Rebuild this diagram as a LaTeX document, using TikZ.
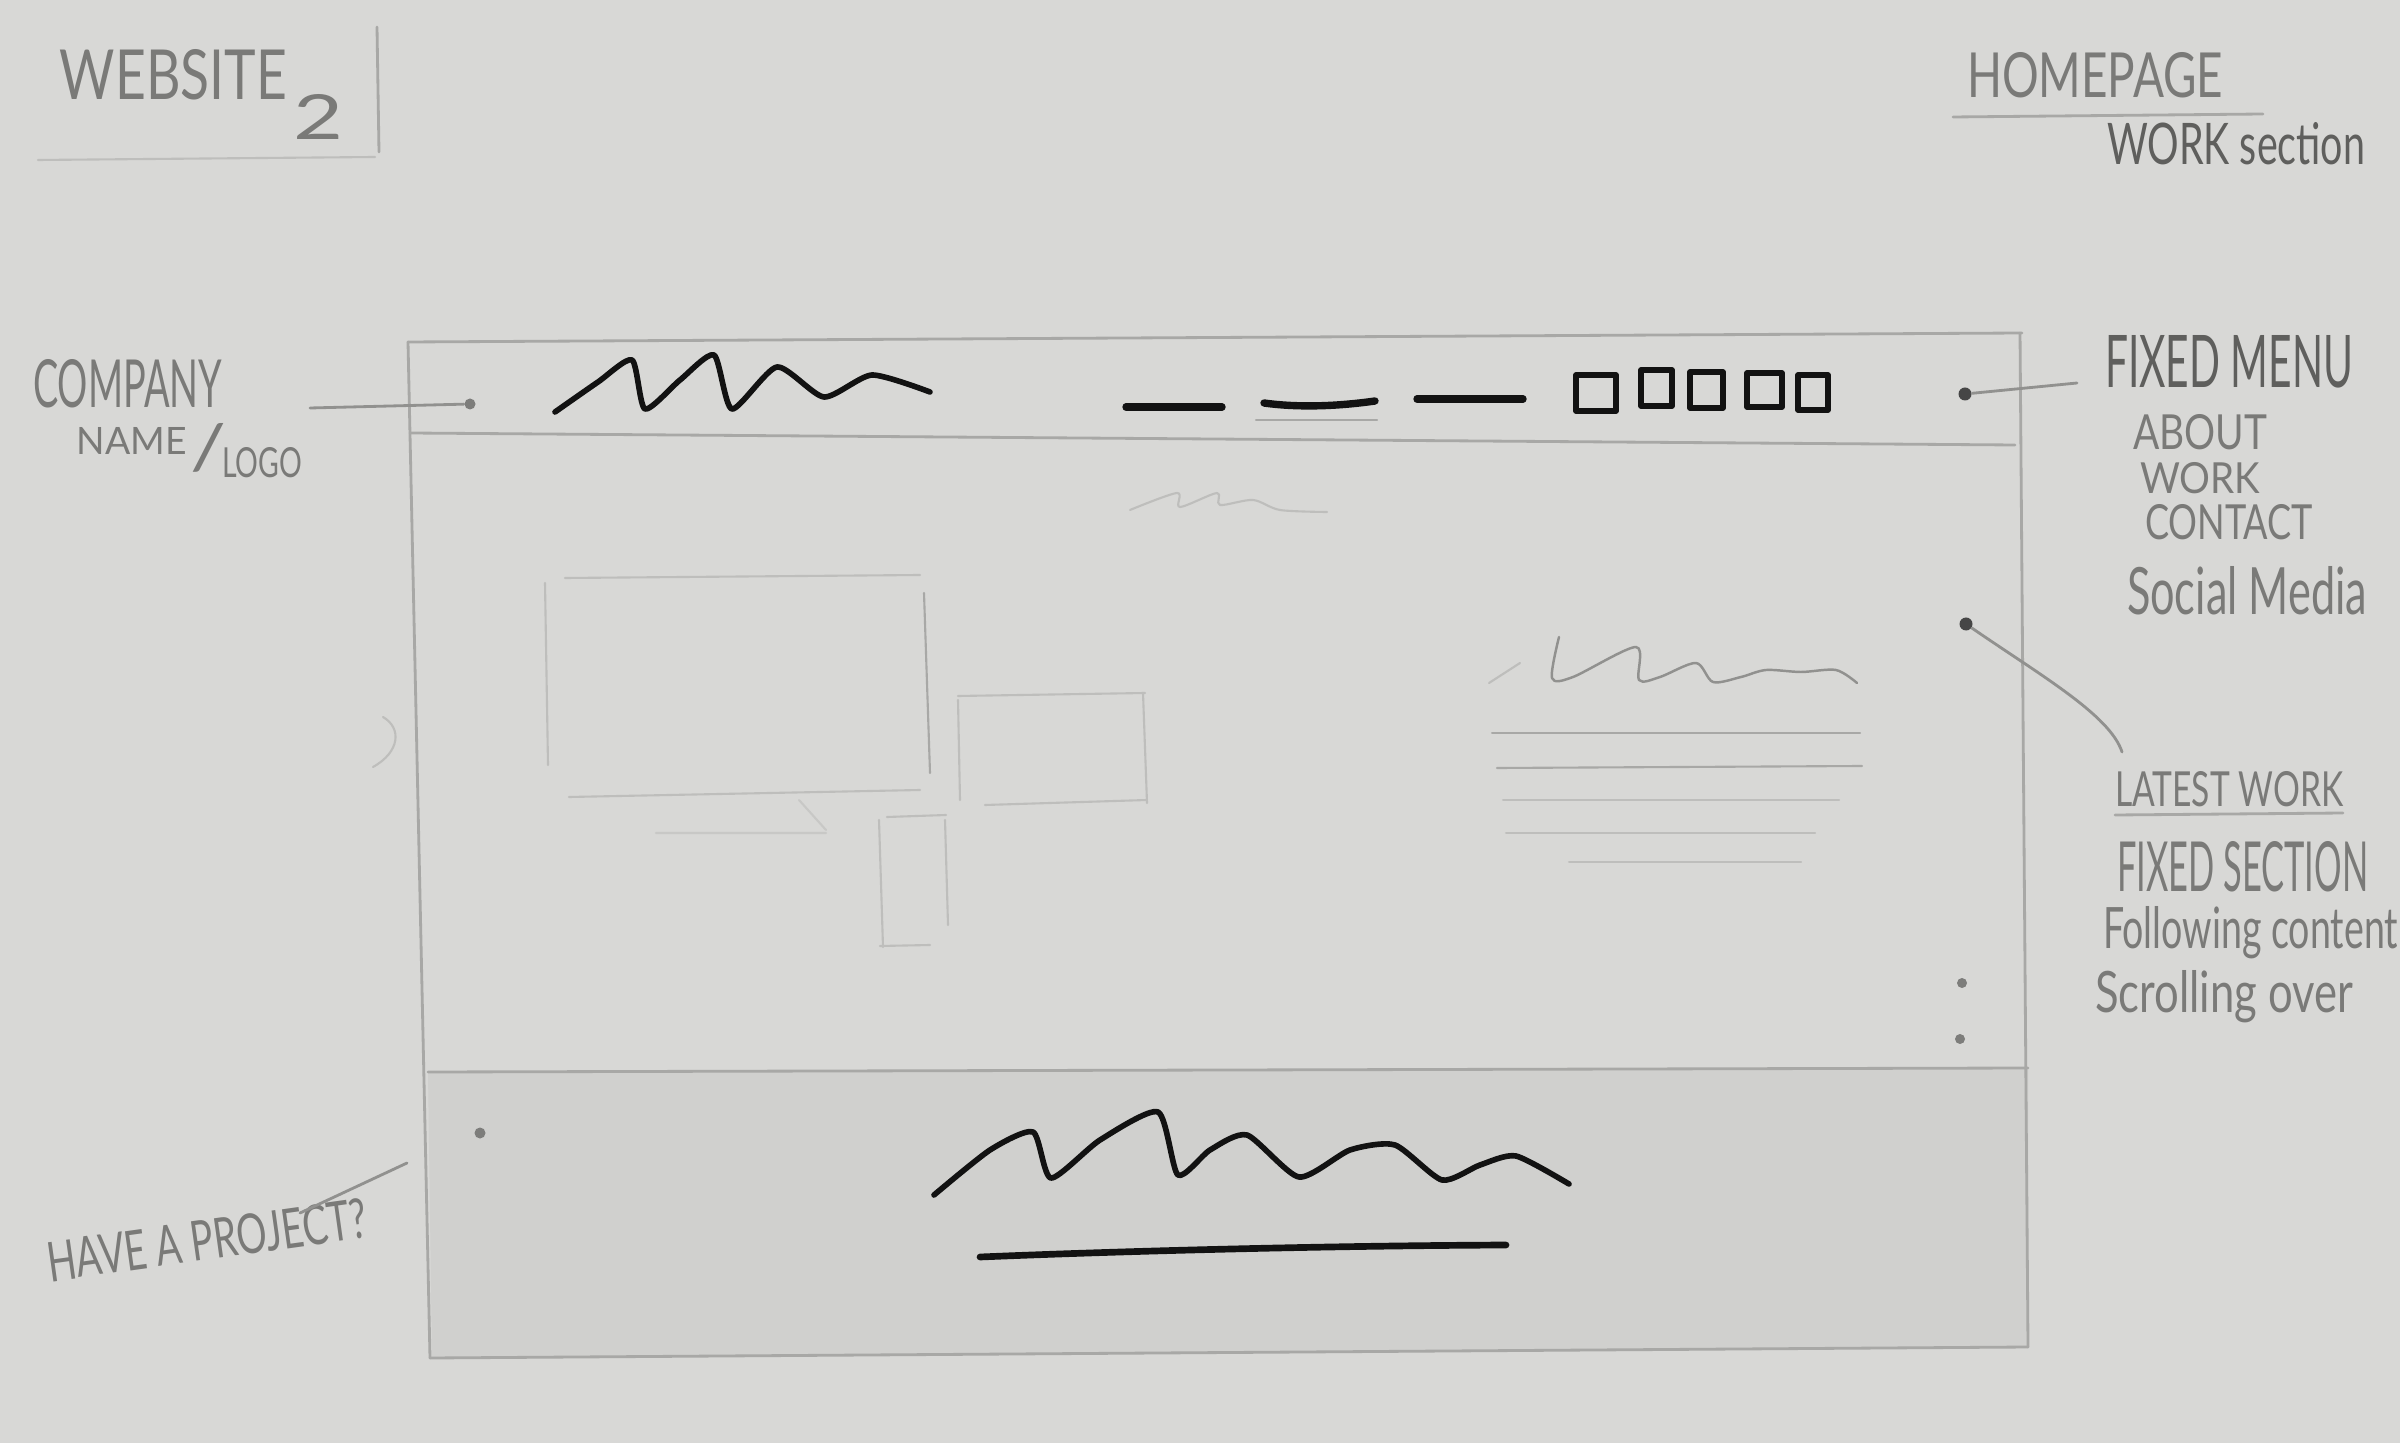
\documentclass[tikz,border=0pt]{standalone}
\usepackage{fontspec}
\setmainfont{Lato}
\usepackage{graphicx}
\definecolor{paper}{RGB}{216,216,214}
\definecolor{footC}{RGB}{208,208,206}
\definecolor{frameC}{RGB}{168,168,166}
\definecolor{faintC}{RGB}{190,190,188}
\definecolor{leadC}{RGB}{145,145,143}
\definecolor{pen}{RGB}{122,122,120}
\definecolor{pendark}{RGB}{95,95,93}
\definecolor{inkC}{RGB}{18,18,18}
\definecolor{dotC}{RGB}{70,70,70}
\definecolor{dotL}{RGB}{125,125,123}
\newcommand\hwt[3]{\resizebox{#1cm}{#2cm}{#3}}
\begin{document}
\begin{tikzpicture}[x=0.01cm,y=-0.01cm, line cap=round, line join=round,
  txt/.style={inner sep=0pt, outer sep=0pt, anchor=base west, text=pen},
  txtd/.style={txt, text=pendark},
  frame/.style={draw=frameC, line width=0.8pt},
  faint/.style={draw=faintC, line width=0.6pt},
  lead/.style={draw=leadC, line width=0.8pt},
  ink/.style={draw=inkC, line width=1.6pt},
  inkthick/.style={draw=inkC, line width=2.1pt},
  dot/.style={circle, inner sep=0pt, minimum size=0.13cm, fill=dotC},
  dotl/.style={dot, fill=dotL, minimum size=0.11cm}]
% paper
\fill[paper] (0,0) rectangle (2400,1443);
\useasboundingbox (0,0) rectangle (2400,1443);

% ---------- title blocks ----------
\node[txt] (website) at (60,100) {\hwt{2.27}{0.5}{WEBSITE}};
\node[txt] (two) at (293,140) {\hwt{0.5}{0.45}{2}};
\draw[frame] (377,27) -- (379,152);
\draw[faint] (38,160) -- (375,157);

\node[txt] (homepage) at (1967,98) {\hwt{2.56}{0.45}{HOMEPAGE}};
\draw[frame] (1953,117) -- (2263,114);
\node[txtd] (worksec) at (2107,165) {\hwt{2.58}{0.42}{WORK section}};

% ---------- main frame ----------
\fill[footC] (428,1072) -- (2028,1068) -- (2028,1347) -- (432,1358) -- cycle;
\draw[frame] (408,342) -- (2022,333);
\draw[frame] (408,342) -- (430,1358);
\draw[frame] (2020,333) -- (2028,1347);
\draw[frame] (410,433) -- (2015,445);
\draw[frame] (428,1072) -- (2028,1068);
\draw[frame] (430,1358) -- (2028,1347);

% ---------- header ----------
\draw[ink] plot[smooth, tension=0.4] coordinates {(555,412) (598,382) (632,360) (645,409) (680,380) (714,355) (732,409) (777,367) (824,397) (872,375) (930,392)};
\draw[inkthick] (1126,407) -- (1222,407);
\draw[inkthick] (1264,403) .. controls (1300,408) and (1340,406) .. (1375,401);
\draw[faint, draw=frameC] (1256,420) -- (1377,420);
\draw[inkthick] (1417,399) -- (1523,399);
\draw[ink] (1576,375) rectangle (1616,411);
\draw[ink] (1641,370) rectangle (1672,406);
\draw[ink] (1690,372) rectangle (1723,408);
\draw[ink] (1747,373) rectangle (1782,407);
\draw[ink] (1798,375) rectangle (1828,410);

% faint squiggle below menu
\draw[faint] plot[smooth, tension=0.5] coordinates {(1130,510) (1177,493) (1180,507) (1217,493) (1220,505) (1253,500) (1280,510) (1327,512)};

% ---------- content ----------
\draw[faint] (545,583) -- (548,765);
\draw[faint] (565,578) -- (920,575);
\draw[faint, draw=frameC] (924,593) -- (930,773);
\draw[faint] (569,797) -- (920,790);
\draw[faint, draw=faintC!60!paper] (656,833) -- (826,833) (799,800) -- (826,830);
\draw[faint] (958,696) -- (1145,693);
\draw[faint] (958,700) -- (960,800);
\draw[faint] (1143,693) -- (1147,803);
\draw[faint] (985,805) -- (1147,800);
\draw[faint] (887,817) -- (946,815);
\draw[faint] (879,820) -- (883,947);
\draw[faint] (945,820) -- (948,925);
\draw[faint] (880,946) -- (930,945);
\draw[faint] (383,717) .. controls (402,728) and (400,752) .. (373,767);

% right text block
\draw[faint] (1489,683) -- (1520,663);
\draw[lead, line width=0.7pt] plot[smooth, tension=0.5] coordinates {(1559,637) (1552,678) (1573,677) (1636,647) (1639,680) (1660,677) (1696,663) (1713,682) (1741,677) (1766,670) (1801,672) (1836,670) (1857,683)};
\draw[faint, draw=frameC] (1492,733) -- (1860,733);
\draw[faint, draw=frameC] (1497,768) -- (1862,766);
\draw[faint] (1503,800) -- (1839,800);
\draw[faint] (1506,833) -- (1815,833);
\draw[faint] (1569,862) -- (1801,862);

% ---------- footer ----------
\draw[ink] plot[smooth, tension=0.4] coordinates {(934,1195) (990,1150) (1033,1132) (1051,1178) (1100,1140) (1158,1112) (1178,1175) (1210,1150) (1247,1135) (1299,1177) (1350,1150) (1395,1145) (1442,1180) (1480,1165) (1516,1156) (1569,1184)};
\draw[inkthick, line width=1.9pt] (980,1257) .. controls (1100,1252) and (1300,1246) .. (1506,1245);

% ---------- dots ----------
\node[dotl] (dlogo) at (470,404) {};
\node[dot] (dmenu) at (1965,394) {};
\node[dot] (dsocial) at (1966,624) {};
\node[dotl] (dfoot) at (480,1133) {};
\node[dotl, minimum size=0.1cm] (ds1) at (1962,983) {};
\node[dotl, minimum size=0.1cm] (ds2) at (1960,1039) {};

% ---------- left labels ----------
\node[txt] (company) at (33,408) {\hwt{1.89}{0.48}{COMPANY}};
\node[txt] (name) at (77,455) {\hwt{1.1}{0.27}{NAME}};
\node[txt] (slash) at (190,470) {\hwt{0.36}{0.46}{/}};
\node[txt] (logo) at (222,478) {\hwt{0.8}{0.3}{LOGO}};
\coordinate (cl) at (310,408);
\draw[lead] (cl) -- (dlogo);

\node[txt, rotate=8] (project) at (50,1282) {\hwt{3.22}{0.4}{HAVE A PROJECT?}};
\coordinate (hp1) at (300,1213);
\coordinate (hp2) at (407,1163);
\draw[lead] (hp1) -- (hp2);

% ---------- right labels ----------
\node[txtd] (fixedmenu) at (2105,388) {\hwt{2.48}{0.52}{FIXED MENU}};
\coordinate (fml) at (2077,383);
\draw[lead] (dmenu) -- (fml);
\node[txt] (about) at (2133,450) {\hwt{1.34}{0.35}{ABOUT}};
\node[txt] (work) at (2140,494) {\hwt{1.2}{0.31}{WORK}};
\node[txt] (contact) at (2145,540) {\hwt{1.68}{0.35}{CONTACT}};
\node[txt] (social) at (2127,615) {\hwt{2.4}{0.48}{Social Media}};

\node[txt] (latest) at (2115,807) {\hwt{2.28}{0.35}{LATEST WORK}};
\draw[frame] (2115,815) -- (2343,813);
\coordinate (lw) at (2122,752);
\draw[lead] (dsocial) .. controls (2040,675) and (2110,715) .. (lw);
\node[txt] (fixedsec) at (2117,892) {\hwt{2.51}{0.5}{FIXED SECTION}};
\node[txt] (following) at (2103,948) {\hwt{2.95}{0.42}{Following content}};
\node[txt] (scrolling) at (2095,1012) {\hwt{2.58}{0.42}{Scrolling over}};
\end{tikzpicture}
\end{document}
